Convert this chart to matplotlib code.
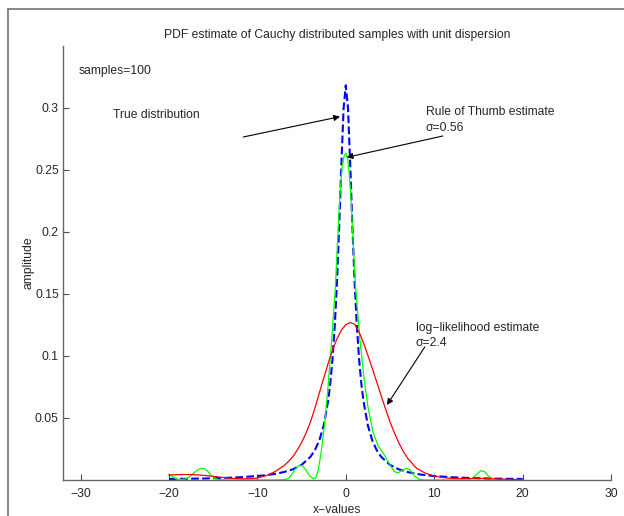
import matplotlib.pyplot as plt
from matplotlib.lines import Line2D

# true Cauchy pdf (unit dispersion)
true_x = [-20, -18, -16, -14, -12, -10, -9, -8, -7, -6, -5, -4, -3.5, -3, -2.5, -2,
          -1.75, -1.5, -1.25, -1, -0.75, -0.5, -0.25, 0, 0.25, 0.5, 0.75, 1, 1.25,
          1.5, 1.75, 2, 2.5, 3, 3.5, 4, 5, 6, 7, 8, 9, 10, 12, 14, 16, 18, 20]
true_y = [0.0008, 0.0010, 0.0012, 0.0016, 0.0022, 0.0032, 0.0039, 0.0049, 0.0064,
          0.0086, 0.0122, 0.0187, 0.0240, 0.0318, 0.0439, 0.0637, 0.0783, 0.0979,
          0.1242, 0.1592, 0.2037, 0.2546, 0.2996, 0.3183, 0.2996, 0.2546, 0.2037,
          0.1592, 0.1242, 0.0979, 0.0783, 0.0637, 0.0439, 0.0318, 0.0240, 0.0187,
          0.0122, 0.0086, 0.0064, 0.0049, 0.0039, 0.0032, 0.0022, 0.0016, 0.0012,
          0.0010, 0.0008]

# rule of thumb estimate (sigma = 0.56)
rot_x = [-20, -19.7, -19.3, -18.8, -18.3, -17.8, -17.3, -16.8, -16.4, -16.0, -15.6,
         -15.2, -14.8, -14.3, -13.5, -8.0, -7.0, -6.5, -6.1, -5.7, -5.3, -4.9, -4.5,
         -4.1, -3.7, -3.4, -3.1, -2.8, -2.4, -2.0, -1.6, -1.2, -0.95, -0.7, -0.45,
         -0.2, 0.0, 0.2, 0.4, 0.6, 0.85, 1.1, 1.4, 1.6, 2.0, 2.5, 3.1, 3.7, 4.25,
         4.7, 5.1, 5.5, 5.9, 6.4, 6.9, 7.3, 7.8, 8.3, 8.8, 13.8, 14.3, 14.8, 15.3,
         15.7, 16.1, 16.6, 17.2, 20]
rot_y = [0.0048, 0.0030, 0.0012, 0.0003, 0.0006, 0.0020, 0.0050, 0.0080, 0.0094,
         0.0090, 0.0068, 0.0035, 0.0012, 0.0002, 0.0, 0.0, 0.0002, 0.0012, 0.0045,
         0.0090, 0.0118, 0.0115, 0.0080, 0.0035, 0.0012, 0.0015, 0.0085, 0.022,
         0.045, 0.076, 0.113, 0.153, 0.190, 0.226, 0.250, 0.261, 0.2635, 0.259,
         0.246, 0.226, 0.188, 0.156, 0.130, 0.113, 0.086, 0.059, 0.038, 0.027,
         0.0215, 0.016, 0.0110, 0.0068, 0.0056, 0.0080, 0.0094, 0.0080, 0.0030,
         0.0006, 0.0, 0.0, 0.0012, 0.0045, 0.0075, 0.0068, 0.0035, 0.0008, 0.0, 0.0]

# log-likelihood estimate (sigma = 2.4)
ll_x = [-20, -19, -18, -17, -16, -15, -14, -13, -12, -11, -10, -9, -8, -7, -6.5, -6,
        -5.5, -5, -4.5, -4, -3.5, -3, -2.5, -2, -1.5, -1, -0.5, 0, 0.5, 1, 1.5, 2,
        2.5, 3, 3.5, 4, 4.5, 5, 5.5, 6, 6.5, 7, 8, 9, 10, 11, 12, 13, 14, 15, 16,
        17, 18, 19, 20]
ll_y = [0.0040, 0.0043, 0.0044, 0.0042, 0.0037, 0.0029, 0.0021, 0.0014, 0.0010,
        0.0010, 0.0016, 0.0035, 0.0068, 0.0115, 0.0148, 0.0188, 0.0240, 0.0302,
        0.0378, 0.0468, 0.0578, 0.0700, 0.0822, 0.0940, 0.1048, 0.1138, 0.1208,
        0.1252, 0.1270, 0.1255, 0.1195, 0.1105, 0.1005, 0.0900, 0.0790, 0.0680,
        0.0572, 0.0470, 0.0380, 0.0300, 0.0232, 0.0175, 0.0095, 0.0055, 0.0032,
        0.0019, 0.0013, 0.0011, 0.0012, 0.0013, 0.0012, 0.0009, 0.0006, 0.0004,
        0.0003]

x_ticks = [-30, -20, -10, 0, 10, 20, 30]
y_ticks = [0.05, 0.1, 0.15, 0.2, 0.25, 0.3]
y_tick_labels = ['0.05', '0.1', '0.15', '0.2', '0.25', '0.3']

plt.rcParams['font.family'] = ['Liberation Sans', 'DejaVu Sans']
fs = 8.7

fig = plt.figure(figsize=(6.24, 5.16), dpi=100)
ax = fig.add_axes([0.101, 0.0698, 0.878, 0.8411])

ax.plot(true_x, true_y, color=(0, 0, 1), ls='--', lw=1.5)
ax.plot(rot_x, rot_y, color=(0, 1, 0), lw=0.9)
ax.plot(ll_x, ll_y, color=(1, 0, 0), lw=0.9)

ax.set_xlim(-32, 30)
ax.set_ylim(0, 0.35)
ax.set_xticks(x_ticks)
ax.set_yticks(y_ticks)
ax.set_yticklabels(y_tick_labels)
ax.tick_params(direction='in', length=4, width=0.8, color='0.3', labelsize=fs,
               labelcolor='0.15')
ax.tick_params(axis='x', pad=6)
ax.tick_params(axis='y', pad=3)
for side in ['top', 'right']:
    ax.spines[side].set_visible(False)
for side in ['left', 'bottom']:
    ax.spines[side].set_color('0.4')
    ax.spines[side].set_linewidth(1.0)

ax.set_title('PDF estimate of Cauchy distributed samples with unit dispersion',
             fontsize=fs, pad=6, color='0.15')
ax.set_xlabel('x\u2212values', fontsize=fs, labelpad=3, color='0.15')
ax.set_ylabel('amplitude', fontsize=fs, labelpad=0, color='0.15')

# annotations
arrow = dict(arrowstyle='-|>', color='k', lw=0.8, mutation_scale=9,
             shrinkA=0, shrinkB=0)
ax.text(-30.2, 0.330, 'samples=100', fontsize=fs, va='center', color='0.15')
ax.text(-26.3, 0.2944, 'True distribution', fontsize=fs, va='center', color='0.15')
ax.annotate('', xy=(-0.66, 0.293), xytext=(-11.6, 0.2766), arrowprops=arrow)
ax.text(9.03, 0.2970, 'Rule of Thumb estimate', fontsize=fs, va='center', color='0.15')
ax.text(9.03, 0.2836, '\u03c3=0.56', fontsize=fs, va='center', color='0.15')
ax.annotate('', xy=(0.1, 0.2602), xytext=(10.98, 0.2774), arrowprops=arrow)
ax.text(7.9, 0.1223, 'log\u2212likelihood estimate', fontsize=fs, va='center', color='0.15')
ax.text(7.9, 0.1107, '\u03c3=2.4', fontsize=fs, va='center', color='0.15')
ax.annotate('', xy=(4.66, 0.0605), xytext=(8.94, 0.1073), arrowprops=arrow)

# page border (left and top edges only are visible)
fig.add_artist(Line2D([8 / 624, 8 / 624], [0, 1 - 9 / 516], color='0.45', lw=1.2,
                      transform=fig.transFigure))
fig.add_artist(Line2D([8 / 624, 1], [1 - 9 / 516, 1 - 9 / 516], color='0.45', lw=1.2,
                      transform=fig.transFigure))

fig.savefig('out.png', dpi=100)
